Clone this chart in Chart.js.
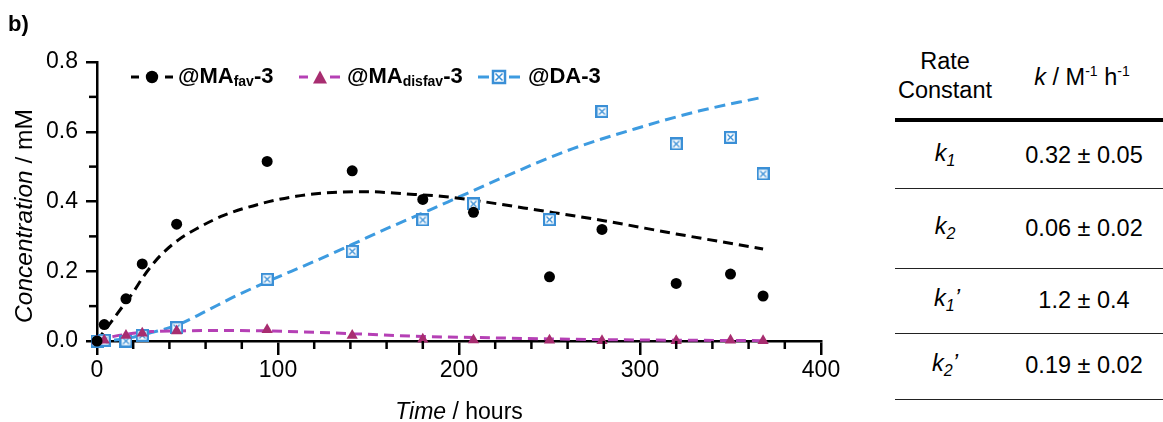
<!DOCTYPE html>
<html>
<head>
<meta charset="utf-8">
<script src="https://cdn.jsdelivr.net/npm/chart.js@4.4.0/dist/chart.umd.min.js"></script>
<style>
body{margin:0;background:#fff;font-family:"Liberation Sans",Arial,sans-serif;color:#000;}
#wrap{position:relative;width:1163px;height:422px;overflow:hidden;}
#c{position:absolute;left:0;top:0;}
.abs{position:absolute;white-space:nowrap;line-height:1;}
.ctr{transform:translate(-50%,-50%);}
.leg{font-weight:bold;font-size:22px;transform:translateY(-50%);}
.leg sub{font-size:14px;vertical-align:-3px;}
.tbl{font-size:23.5px;}
.hl{position:absolute;left:895px;width:268px;background:#222;}
sup{font-size:14px;vertical-align:9px;}
.tsub{font-size:16px;vertical-align:-5px;}
</style>
</head>
<body>
<div id="wrap">
  <canvas id="c" width="860" height="422"></canvas>

  <div class="abs" style="left:8px;top:13px;font-weight:bold;font-size:22px;">b)</div>

  <!-- legend -->
  <svg class="abs" style="left:131px;top:69px" width="44" height="16">
    <line x1="0" y1="8" x2="8" y2="8" stroke="#000" stroke-width="3"/>
    <circle cx="21" cy="8" r="6.2" fill="#000"/>
    <line x1="34" y1="8" x2="42" y2="8" stroke="#000" stroke-width="3"/>
  </svg>
  <div class="abs leg" style="left:178px;top:76px">@MA<sub>fav</sub>-3</div>

  <svg class="abs" style="left:299px;top:69px" width="44" height="16">
    <line x1="0" y1="8" x2="9" y2="8" stroke="#b540b5" stroke-width="3"/>
    <polygon points="21,1.5 28,14.5 14,14.5" fill="#a82d70"/>
    <line x1="31" y1="8" x2="41" y2="8" stroke="#b540b5" stroke-width="3"/>
  </svg>
  <div class="abs leg" style="left:347px;top:76px">@MA<sub>disfav</sub>-3</div>

  <svg class="abs" style="left:478px;top:69px" width="44" height="16">
    <line x1="0" y1="8" x2="11" y2="8" stroke="#3d9be0" stroke-width="3"/>
    <rect x="15" y="2" width="12" height="12" fill="#fff" stroke="#3a8fd6" stroke-width="2.5"/>
    <path d="M17.5 4.5 L24.5 11.5 M24.5 4.5 L17.5 11.5" stroke="#3a8fd6" stroke-width="1.5"/>
    <line x1="31" y1="8" x2="42" y2="8" stroke="#3d9be0" stroke-width="3"/>
  </svg>
  <div class="abs leg" style="left:528px;top:76px">@DA-3</div>

  <!-- axis titles -->
  <div class="abs" style="left:24px;top:216px;font-size:24.5px;transform:translate(-50%,-50%) rotate(-90deg);"><i>Concentration</i> / mM</div>
  <div class="abs ctr" style="left:459px;top:411px;font-size:23px;"><i>Time</i> / hours</div>

  <!-- table -->
  <div class="abs ctr tbl" style="left:945px;top:62px">Rate</div>
  <div class="abs ctr tbl" style="left:945px;top:91px">Constant</div>
  <div class="abs ctr tbl" style="left:1082px;top:77px"><i>k</i> / M<sup>-1</sup> h<sup>-1</sup></div>
  <div class="hl" style="top:118px;height:3.5px;background:#000"></div>

  <div class="abs ctr tbl" style="left:945px;top:155px"><i>k<span class="tsub">1</span></i></div>
  <div class="abs ctr tbl" style="left:1084px;top:156px">0.32 ± 0.05</div>
  <div class="hl" style="top:188px;height:1px"></div>

  <div class="abs ctr tbl" style="left:945px;top:228px"><i>k<span class="tsub">2</span></i></div>
  <div class="abs ctr tbl" style="left:1084px;top:229px">0.06 ± 0.02</div>
  <div class="hl" style="top:268px;height:1px"></div>

  <div class="abs ctr tbl" style="left:947px;top:300px"><i>k<span class="tsub">1</span>’</i></div>
  <div class="abs ctr tbl" style="left:1084px;top:301px">1.2 ± 0.4</div>
  <div class="hl" style="top:333px;height:1px"></div>

  <div class="abs ctr tbl" style="left:945px;top:365px"><i>k<span class="tsub">2</span>’</i></div>
  <div class="abs ctr tbl" style="left:1084px;top:366px">0.19 ± 0.02</div>
  <div class="hl" style="top:399px;height:1px"></div>
</div>

<script>
// measured points (hours, mM)
const times = [0, 4, 16, 25, 44, 94, 141, 180, 208, 250, 279, 320, 350, 368];
const favValues = [0, 0.047, 0.121, 0.221, 0.335, 0.515, 0.488, 0.406, 0.369, 0.184, 0.32, 0.165, 0.192, 0.129];
const disfavValues = [0, 0.002, 0.016, 0.022, 0.029, 0.032, 0.016, 0.005, 0.003, 0.002, 0.001, 0.001, 0.002, 0.001];
const daValues = [0, 0.002, 0, 0.016, 0.038, 0.177, 0.257, 0.347, 0.393, 0.348, 0.658, 0.565, 0.584, 0.479];

// fitted curves
const favFitTimes = [0, 5, 10, 15, 20, 25, 30, 35, 45, 55, 70, 90, 110, 130, 150, 170, 190, 210, 245, 280, 320, 368];
const favFit = [0, 0.035, 0.07, 0.105, 0.14, 0.18, 0.215, 0.245, 0.29, 0.322, 0.36, 0.393, 0.415, 0.426, 0.428, 0.422, 0.415, 0.402, 0.374, 0.345, 0.307, 0.264];
const disfavFitTimes = [0, 5, 10, 20, 30, 45, 70, 95, 120, 141, 180, 210, 250, 300, 368];
const disfavFit = [0, 0.008, 0.014, 0.022, 0.027, 0.029, 0.03, 0.029, 0.025, 0.021, 0.013, 0.01, 0.006, 0.003, 0.001];
const daFitTimes = [0, 10, 20, 30, 45, 60, 75, 94, 120, 141, 160, 180, 200, 223, 260, 297, 333, 366];
const daFit = [0, 0.003, 0.011, 0.024, 0.047, 0.085, 0.125, 0.17, 0.228, 0.277, 0.322, 0.367, 0.413, 0.466, 0.546, 0.608, 0.66, 0.697];

// axis ticks
const xTickLabels = ['0', '100', '200', '300', '400'];
const yTickLabels = ['0.0', '0.2', '0.4', '0.6', '0.8'];
const xMinorTicks = [20, 40, 60, 80, 120, 140, 160, 180, 220, 240, 260, 280, 320, 340, 360, 380];
const yMinorTicks = [0.1, 0.3, 0.5, 0.7];

const pts = (xs, ys) => xs.map((x, i) => ({ x: x, y: ys[i] }));

function crossBox(size, color) {
  const cv = document.createElement('canvas');
  cv.width = cv.height = size;
  const g = cv.getContext('2d');
  g.fillStyle = '#fff';
  g.fillRect(0, 0, size, size);
  g.strokeStyle = color;
  g.lineWidth = 2.2;
  g.strokeRect(1.1, 1.1, size - 2.2, size - 2.2);
  g.lineWidth = 1.3;
  g.beginPath();
  g.moveTo(3.5, 3.5); g.lineTo(size - 3.5, size - 3.5);
  g.moveTo(size - 3.5, 3.5); g.lineTo(3.5, size - 3.5);
  g.stroke();
  return cv;
}

const minorTicks = {
  id: 'minorTicks',
  afterDraw(chart) {
    const { ctx, scales: { x, y } } = chart;
    ctx.save();
    ctx.strokeStyle = '#000';
    ctx.lineWidth = 2.5;
    xMinorTicks.forEach(v => {
      const px = x.getPixelForValue(v);
      ctx.beginPath(); ctx.moveTo(px, y.bottom); ctx.lineTo(px, y.bottom + 8); ctx.stroke();
    });
    yMinorTicks.forEach(v => {
      const py = y.getPixelForValue(v);
      ctx.beginPath(); ctx.moveTo(x.left, py); ctx.lineTo(x.left - 8, py); ctx.stroke();
    });
    ctx.restore();
  }
};

const tickFont = { family: '"Liberation Sans", Arial, sans-serif', size: 23 };

new Chart(document.getElementById('c'), {
  type: 'scatter',
  data: {
    datasets: [
      { data: pts(times, favValues), pointStyle: 'circle', pointRadius: 5.5, backgroundColor: '#000', borderColor: '#000', borderWidth: 0, showLine: false },
      { data: pts(times, disfavValues), pointStyle: 'triangle', pointRadius: 6.5, backgroundColor: '#a82d70', borderColor: '#a82d70', borderWidth: 0, showLine: false },
      { data: pts(times, daValues), pointStyle: crossBox(13, '#3a8fd6'), showLine: false },
      { data: pts(favFitTimes, favFit), showLine: true, pointRadius: 0, borderColor: '#000', borderWidth: 3, borderDash: [10, 6], cubicInterpolationMode: 'monotone' },
      { data: pts(disfavFitTimes, disfavFit), showLine: true, pointRadius: 0, borderColor: '#b540b5', borderWidth: 3, borderDash: [10, 6], cubicInterpolationMode: 'monotone' },
      { data: pts(daFitTimes, daFit), showLine: true, pointRadius: 0, borderColor: '#3d9be0', borderWidth: 3, borderDash: [11, 6], cubicInterpolationMode: 'monotone' }
    ]
  },
  options: {
    responsive: false,
    animation: false,
    clip: false,
    layout: { padding: { top: 62, right: 39, left: 0, bottom: 0 } },
    plugins: { legend: { display: false }, tooltip: { enabled: false } },
    scales: {
      x: {
        type: 'linear', min: 0, max: 400,
        ticks: { stepSize: 100, color: '#000', font: tickFont, padding: 2, maxRotation: 0,
          callback: (v, i) => xTickLabels[i] },
        grid: { drawOnChartArea: false, drawTicks: true, tickLength: 14, lineWidth: 2.5, tickWidth: 2.5, color: '#000', tickColor: '#000' },
        border: { display: true, width: 2.5, color: '#000' },
        afterFit: s => { s.height = 81; }
      },
      y: {
        min: 0, max: 0.8,
        ticks: { stepSize: 0.2, color: '#000', font: tickFont, padding: 8,
          callback: (v, i) => yTickLabels[i] },
        grid: { drawOnChartArea: false, drawTicks: true, tickLength: 11, lineWidth: 2.5, tickWidth: 2.5, color: '#000', tickColor: '#000' },
        border: { display: true, width: 2.5, color: '#000' },
        afterFit: s => { s.width = 97; }
      }
    }
  },
  plugins: [minorTicks]
});
</script>
</body>
</html>
